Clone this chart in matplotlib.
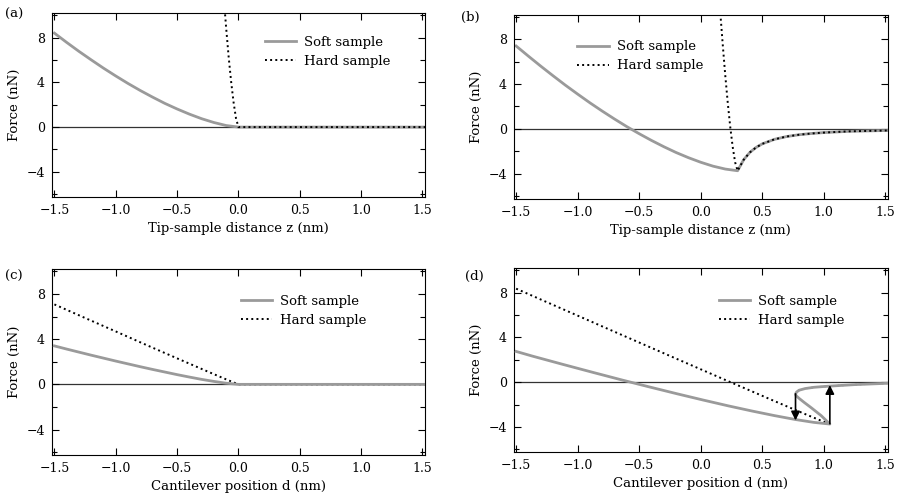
import matplotlib
matplotlib.use("Agg")
import matplotlib.pyplot as plt
from matplotlib.ticker import MultipleLocator

plt.rcParams['font.family'] = ['DejaVu Serif']
plt.rcParams['font.size'] = 9
plt.rcParams['axes.unicode_minus'] = True

# (a) force vs tip-sample distance, no adhesion
za_soft = [-1.5, -1.4, -1.3, -1.2, -1.1, -1.0, -0.9, -0.8, -0.7, -0.6, -0.5,
           -0.4, -0.3, -0.2, -0.1, 0.0, 1.52]
Fa_soft = [8.4, 7.57, 6.77, 6.01, 5.27, 4.57, 3.90, 3.27, 2.68, 2.12, 1.62,
           1.16, 0.75, 0.41, 0.14, 0.0, 0.0]
za_hard = [-0.12, -0.1, -0.08, -0.06, -0.04, -0.02, 0.0, 1.52]
Fa_hard = [11.6, 8.85, 6.3, 4.1, 2.24, 0.79, 0.0, 0.0]

# (b) force vs tip-sample distance, with adhesion
zb_soft = [-1.5, -1.4, -1.3, -1.2, -1.1, -1.0, -0.9, -0.8, -0.7, -0.6, -0.5,
           -0.4, -0.3, -0.2, -0.1, 0.0, 0.1, 0.2, 0.3,
           0.35, 0.4, 0.45, 0.5, 0.6, 0.7, 0.8, 0.9, 1.0, 1.2, 1.52]
Fb_soft = [7.4, 6.49, 5.60, 4.74, 3.90, 3.10, 2.32, 1.58, 0.87, 0.19, -0.44,
           -1.04, -1.60, -2.12, -2.58, -2.99, -3.34, -3.60, -3.75,
           -2.76, -2.11, -1.67, -1.35, -0.94, -0.69, -0.53, -0.42, -0.34, -0.23, -0.15]
zb_hard = [0.16, 0.18, 0.2, 0.22, 0.24, 0.26, 0.28, 0.3,
           0.35, 0.4, 0.45, 0.5, 0.6, 0.7, 0.8, 0.9, 1.0, 1.2, 1.52]
Fb_hard = [10.3, 7.44, 4.76, 2.34, 0.20, -1.60, -2.99, -3.75,
           -2.76, -2.11, -1.67, -1.35, -0.94, -0.69, -0.53, -0.42, -0.34, -0.23, -0.15]

# (c) force vs cantilever position, no adhesion
dc_soft = [-1.5, -1.4, -1.3, -1.2, -1.1, -1.0, -0.9, -0.8, -0.7, -0.6, -0.5,
           -0.4, -0.3, -0.2, -0.1, 0.0, 1.52]
Fc_soft = [3.4, 3.12, 2.85, 2.58, 2.32, 2.06, 1.81, 1.56, 1.32, 1.09, 0.86,
           0.645, 0.44, 0.26, 0.10, 0.0, 0.0]
dc_hard = [-1.5, -1.25, -1.0, -0.75, -0.5, -0.25, -0.1, 0.0, 1.52]
Fc_hard = [7.07, 5.87, 4.68, 3.48, 2.30, 1.13, 0.44, 0.0, 0.0]

# (d) force vs cantilever position, with adhesion
dd_soft = [-1.5, -1.364, -1.116, -0.874, -0.638, -0.412, -0.192, 0.02, 0.224,
           0.416, 0.598, 0.768, 0.92, 1.05,
           0.98, 0.90, 0.84, 0.80, 0.775, 0.771,
           0.78, 0.80, 0.85, 0.92, 1.0, 1.1, 1.25, 1.52]
Fd_soft = [2.75, 2.32, 1.58, 0.87, 0.19, -0.44, -1.04, -1.60, -2.12,
           -2.58, -2.99, -3.34, -3.60, -3.75,
           -3.0, -2.3, -1.8, -1.45, -1.2, -1.05,
           -0.88, -0.72, -0.57, -0.46, -0.39, -0.32, -0.22, -0.1]
dd_hard = [-1.5, -1.308, -0.752, -0.248, 0.20, 0.399, 0.58, 0.74, 0.878, 0.986, 1.05]
Fd_hard = [8.37, 7.44, 4.76, 2.34, 0.20, -0.74, -1.60, -2.35, -2.99, -3.48, -3.75]
nose = 19  # index of the turning point of the soft curve
arrow_d = [0.771, 1.05]
arrow_from = [-1.05, -3.72]
arrow_to = [-3.42, -0.26]

soft_color = '#9a9a9a'

fig = plt.figure(figsize=(9.02, 4.98), dpi=100)
ax_a = fig.add_axes([0.0576, 0.6044, 0.4135, 0.3695])
ax_b = fig.add_axes([0.5695, 0.6010, 0.4146, 0.3695])
ax_c = fig.add_axes([0.0576, 0.0863, 0.4135, 0.3735])
ax_d = fig.add_axes([0.5695, 0.0924, 0.4146, 0.3690])


def style(ax, xlabel, leg_x, leg_y):
    ax.axhline(0, color='#333333', lw=0.9, zorder=1)
    ax.set_xlim(-1.52, 1.52)
    ax.set_ylim(-6.25, 10.2)
    ax.xaxis.set_major_locator(MultipleLocator(0.5))
    ax.yaxis.set_major_locator(MultipleLocator(4))
    ax.yaxis.set_minor_locator(MultipleLocator(2))
    ax.tick_params(which='both', direction='in', top=True, right=True, width=0.8)
    ax.tick_params(which='major', length=5, pad=5)
    ax.tick_params(which='minor', length=3.5)
    ax.xaxis.set_major_formatter(plt.FuncFormatter(lambda v, p: f"{v:.1f}".replace('-', '\u2212')))
    ax.yaxis.set_major_formatter(plt.FuncFormatter(lambda v, p: f"{v:.0f}".replace('-', '\u2212')))
    for s in ax.spines.values():
        s.set_linewidth(0.8)
    ax.set_xlabel(xlabel, fontsize=9.5)
    ax.xaxis.set_label_coords(0.5, -0.135)
    ax.set_ylabel('Force (nN)', fontsize=9.5)
    ax.yaxis.set_label_coords(-0.082, 0.5)
    ax.legend(loc='upper left', bbox_to_anchor=(leg_x, leg_y), frameon=False,
              borderpad=0, borderaxespad=0, handlelength=2.4, handletextpad=0.6,
              labelspacing=0.45, fontsize=9.5)


ax_a.plot(za_soft, Fa_soft, color=soft_color, lw=2, label='Soft sample', zorder=2)
ax_a.plot(za_hard, Fa_hard, color='black', lw=1.4, ls=':', label='Hard sample', zorder=3)
style(ax_a, 'Tip-sample distance z (nm)', 0.57, 0.875)

ax_b.plot(zb_soft, Fb_soft, color=soft_color, lw=2, label='Soft sample', zorder=2)
ax_b.plot(zb_hard, Fb_hard, color='black', lw=1.4, ls=':', label='Hard sample', zorder=3)
style(ax_b, 'Tip-sample distance z (nm)', 0.17, 0.86)

ax_c.plot(dc_soft, Fc_soft, color=soft_color, lw=2, label='Soft sample', zorder=3)
ax_c.plot(dc_hard, Fc_hard, color='black', lw=1.4, ls=':', label='Hard sample', zorder=2)
style(ax_c, 'Cantilever position d (nm)', 0.506, 0.86)

ax_d.plot(dd_soft, Fd_soft, color=soft_color, lw=2, label='Soft sample', zorder=3)
ax_d.plot(dd_hard, Fd_hard, color='black', lw=1.4, ls=':', label='Hard sample', zorder=2)
ax_d.plot(dd_soft[nose:], Fd_soft[nose:], color='#555555', lw=1.2, ls=':', zorder=2)
for d, f0, f1 in zip(arrow_d, arrow_from, arrow_to):
    ax_d.annotate('', xy=(d, f1), xytext=(d, f0),
                  arrowprops=dict(arrowstyle='-|>', color='black', lw=1.2,
                                  mutation_scale=13, shrinkA=0, shrinkB=0), zorder=4)
style(ax_d, 'Cantilever position d (nm)', 0.548, 0.855)

for lbl, x, y in [('(a)', 0.006, 0.984), ('(b)', 0.511, 0.978),
                  ('(c)', 0.006, 0.458), ('(d)', 0.516, 0.458)]:
    fig.text(x, y, lbl, fontsize=9.5, va='top')

fig.savefig('out.png', dpi=100)
